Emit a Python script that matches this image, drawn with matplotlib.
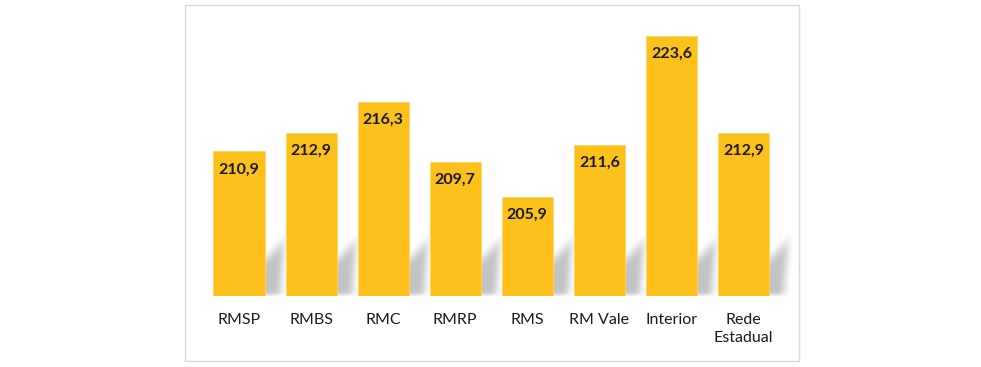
import numpy as np
import matplotlib
matplotlib.use("Agg")
import matplotlib.pyplot as plt
from matplotlib.patches import Rectangle

# data
regions = ["RMSP", "RMBS", "RMC", "RMRP", "RMS", "RM Vale", "Interior", "Rede\nEstadual"]
scores = [210.9, 212.9, 216.3, 209.7, 205.9, 211.6, 223.6, 212.9]
score_labels = ["210,9", "212,9", "216,3", "209,7", "205,9", "211,6", "223,6", "212,9"]

bar_color = "#FDC11C"
y_min, y_max = 195, 225
bar_width = 0.71

plt.rcParams["font.family"] = ["Lato", "DejaVu Sans"]

fig = plt.figure(figsize=(9.81, 3.67), dpi=100)
ax = fig.add_axes([203 / 981, 71 / 367, 576.5 / 981, 273 / 367])
ax.set_xlim(-0.5, len(regions) - 0.5)
ax.set_ylim(y_min, y_max)

# pixel scale of the axes, used for the soft shadow
px_per_x = 72.0
px_per_y = 273.0 / (y_max - y_min)


def smooth(d, soft):
    return np.clip(0.5 + d / soft, 0, 1)


# soft slanted shadow behind every bar
gx = np.linspace(-0.5, len(regions) + 0.2, 620)
gy = np.linspace(y_min, y_min + 9, 90)
X, Y = np.meshgrid(gx, gy)
V = (Y - y_min) * px_per_y
field = np.zeros_like(X)
for i in range(len(regions)):
    d = (X - (i + bar_width / 2)) * px_per_x      # px right of the bar edge
    top = 36 + 1.0 * d
    right = 15 + 0.08 * V
    a = smooth(top - V, 16) * smooth(right - d, 10) * smooth(d + 50, 4) * smooth(V - 1, 4)
    field = np.maximum(field, a)

# small box blur to soften the edges
k = np.ones(5) / 5
field = np.apply_along_axis(lambda r: np.convolve(r, k, mode="same"), 1, field)
field = np.apply_along_axis(lambda c: np.convolve(c, k, mode="same"), 0, field)

rgba = np.zeros(field.shape + (4,))
rgba[..., :3] = 0.45
rgba[..., 3] = field * 0.42
ax.imshow(rgba, extent=(gx[0], gx[-1], gy[0], gy[-1]), origin="lower",
          aspect="auto", zorder=0, interpolation="bilinear", clip_on=False)

x = np.arange(len(regions))
ax.bar(x, np.array(scores) - y_min, bottom=y_min, width=bar_width,
       color=bar_color, edgecolor="#FDD46A", linewidth=0.6, zorder=2)

for xi, val, lab in zip(x, scores, score_labels):
    ax.annotate(lab, (xi, val), xytext=(0, -18), textcoords="offset pixels",
                ha="center", va="center", fontsize=11.5, fontweight="bold",
                color="#1a1a1a", zorder=3)

ax.set_xticks(x)
ax.set_xticklabels(regions, fontsize=11.5, color="#1a1a1a", linespacing=1.4)
ax.tick_params(axis="x", length=0, pad=12)
ax.set_yticks([])
for s in ax.spines.values():
    s.set_visible(False)
ax.set_facecolor("none")
ax.set_xlim(-0.5, len(regions) - 0.5)
ax.set_ylim(y_min, y_max)

# light chart-area border
fig.patches.append(Rectangle((185 / 981, 6 / 367), 614 / 981, 356 / 367,
                             transform=fig.transFigure, fill=False,
                             edgecolor="#D9D9D9", linewidth=1))

fig.savefig("out.png", dpi=100)
